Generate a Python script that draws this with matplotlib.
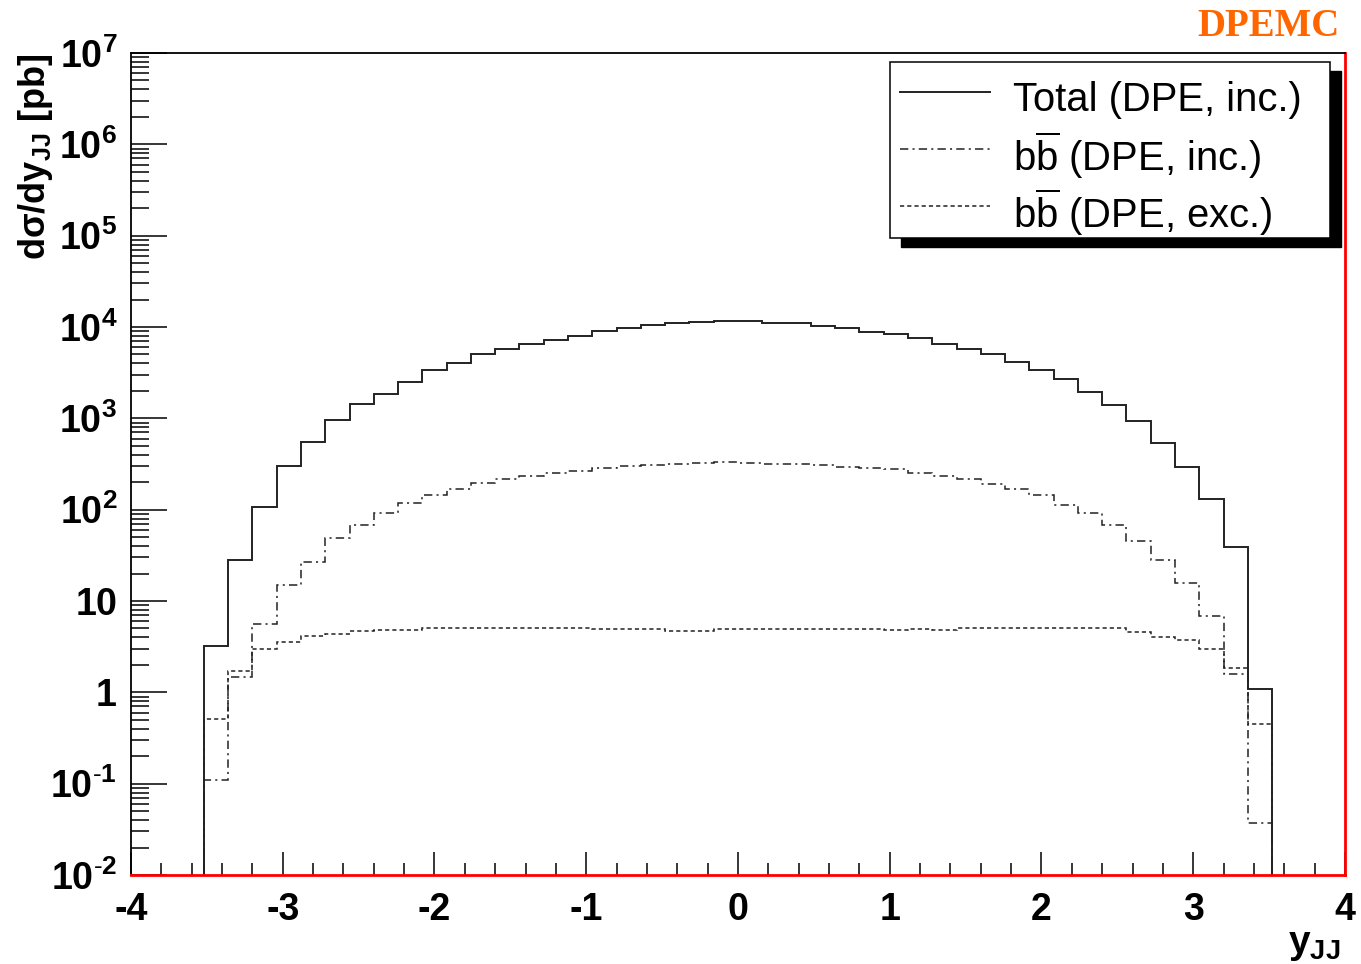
import numpy as np
import matplotlib
matplotlib.use("Agg")
import matplotlib.pyplot as plt
from matplotlib.patches import Rectangle
from matplotlib.ticker import FixedLocator, FixedFormatter, LogLocator, MultipleLocator, NullFormatter

plt.rcParams["font.family"] = ["Liberation Sans", "DejaVu Sans"]
plt.rcParams["mathtext.fontset"] = "custom"
plt.rcParams["mathtext.rm"] = "Liberation Sans"
plt.rcParams["mathtext.it"] = "Liberation Sans:italic"
plt.rcParams["mathtext.bf"] = "Liberation Sans:bold"
plt.rcParams["lines.scale_dashes"] = False

# 44 bins of width 0.16 in y_JJ, from -3.52 to 3.52
bin_edges = np.linspace(-3.52, 3.52, 45)

total_inc = [3.2, 28, 107, 297, 551, 953, 1445, 1855, 2505, 3380, 4060,
             5020, 5700, 6560, 7260, 8030, 9100, 9750, 10600, 10970, 11340, 11720,
             11720, 10970, 10970, 10330, 9820, 8880, 8380, 7520, 6560, 5700, 5020,
             4100, 3410, 2675, 1967, 1416, 927, 536, 292, 132, 39.5, 1.08]

bb_inc = [0.11, 1.47, 5.57, 14.9, 26.9, 49, 67.9, 92.4, 118, 145, 167,
          194, 218, 235, 250, 267, 288, 303, 310, 316, 322, 330,
          322, 316, 316, 308, 295, 288, 277, 252, 235, 217, 192,
          167, 145, 113, 90.8, 68.6, 45.3, 27.9, 15.7, 6.9, 1.57, 0.037]

bb_exc = [0.51, 1.73, 2.98, 3.57, 4.09, 4.34, 4.65, 4.87, 4.87, 5.0, 5.0,
          5.0, 5.0, 5.0, 5.0, 5.0, 4.9, 4.9, 4.9, 4.75, 4.7, 4.95,
          4.9, 4.9, 4.9, 4.9, 4.9, 4.9, 4.8, 4.95, 4.8, 5.0, 5.0,
          5.0, 5.0, 5.0, 5.0, 5.0, 4.55, 4.05, 3.76, 2.95, 1.87, 0.45]

legend_labels = ["Total (DPE, inc.)",
                 r"b$\overline{\mathrm{b}}$ (DPE, inc.)",
                 r"b$\overline{\mathrm{b}}$ (DPE, exc.)"]

x_ticks = [-4, -3, -2, -1, 0, 1, 2, 3, 4]
x_tick_labels = ["-4", "-3", "-2", "-1", "0", "1", "2", "3", "4"]
y_ticks = [1e-2, 1e-1, 1, 10, 1e2, 1e3, 1e4, 1e5, 1e6, 1e7]
y_tick_labels = [r"$\mathbf{10^{\text{-}2}}$", r"$\mathbf{10^{\text{-}1}}$",
                 r"$\mathbf{1}\enspace$", r"$\mathbf{10}\enspace$",
                 r"$\mathbf{10^{2}}$", r"$\mathbf{10^{3}}$", r"$\mathbf{10^{4}}$",
                 r"$\mathbf{10^{5}}$", r"$\mathbf{10^{6}}$", r"$\mathbf{10^{7}}$"]

style_total = dict(color="#222222", linewidth=1.4, linestyle="-")
style_inc = dict(color="#222222", linewidth=1.1, linestyle=(0, (6, 3, 1.5, 3)))
style_exc = dict(color="#222222", linewidth=1.1, linestyle=(0, (3, 2.2)))

fig = plt.figure(figsize=(13.61, 9.64), dpi=100)
ax = fig.add_axes([0.09625, 0.09232, 0.89199, 0.85270])

ax.stairs(bb_exc, bin_edges, baseline=1e-2, **style_exc)
ax.stairs(bb_inc, bin_edges, baseline=1e-2, **style_inc)
ax.stairs(total_inc, bin_edges, baseline=1e-2, **style_total)

ax.set_yscale("log")
ax.set_xlim(-4, 4)
ax.set_ylim(1e-2, 1e7)

ax.xaxis.set_major_locator(FixedLocator(x_ticks))
ax.xaxis.set_major_formatter(FixedFormatter(x_tick_labels))
ax.xaxis.set_minor_locator(MultipleLocator(0.2))
ax.yaxis.set_major_locator(FixedLocator(y_ticks))
ax.yaxis.set_major_formatter(FixedFormatter(y_tick_labels))
ax.yaxis.set_minor_locator(LogLocator(base=10, subs=range(2, 10), numticks=30))
ax.yaxis.set_minor_formatter(NullFormatter())

ax.tick_params(axis="x", which="major", direction="in", length=16.5, width=1.1,
               pad=12, labelsize=27)
ax.tick_params(axis="x", which="minor", direction="in", length=8.3, width=1.1)
ax.tick_params(axis="y", which="major", direction="in", length=26, width=1.1,
               pad=10, labelsize=27)
ax.tick_params(axis="y", which="minor", direction="in", length=13, width=1.1)
for lbl in ax.get_xticklabels():
    lbl.set_fontweight("bold")

for side in ["top", "left"]:
    ax.spines[side].set_linewidth(1.3)
    ax.spines[side].set_color("black")
for side in ["bottom", "right"]:
    ax.spines[side].set_linewidth(2.0)
    ax.spines[side].set_color("red")

ax.set_ylabel(r"$\mathbf{d\sigma/dy_{JJ}}$ [pb]", fontsize=26, fontweight="bold", loc="top")
ax.yaxis.set_label_coords(-0.063, 1.0)
ax.set_xlabel(r"$\mathbf{y_{JJ}}$", fontsize=28, loc="right")
ax.xaxis.set_label_coords(0.996, -0.063)

# legend box in ROOT style, with a solid black shadow
box_x0, box_x1 = 0.6252, 0.9876
box_y0, box_y1 = 0.7749, 0.9891
ax.add_patch(Rectangle((box_x0 + 0.0091, box_y0 - 0.011), box_x1 - box_x0, box_y1 - box_y0,
                       transform=ax.transAxes, facecolor="black", edgecolor="black",
                       zorder=5, clip_on=False))
ax.add_patch(Rectangle((box_x0, box_y0), box_x1 - box_x0, box_y1 - box_y0,
                       transform=ax.transAxes, facecolor="white", edgecolor="black",
                       linewidth=1.1, zorder=6, clip_on=False))
line_y = [0.9526, 0.8832, 0.8139]
text_y = [0.929, 0.857, 0.787]
for style, label, ly, ty in zip([style_total, style_inc, style_exc], legend_labels, line_y, text_y):
    ax.plot([0.6334, 0.7076], [ly, ly], transform=ax.transAxes, zorder=7, **style)
    ax.text(0.7265, ty, label, transform=ax.transAxes, fontsize=28.8,
            va="baseline", ha="left", zorder=7)

fig.text(1340 / 1361, 1 - 26 / 964, "DPEMC", ha="right", va="center",
         fontfamily="Liberation Serif", fontweight="bold", fontsize=28,
         color="#ff6600")

fig.savefig("out.png", dpi=100, facecolor="white")
